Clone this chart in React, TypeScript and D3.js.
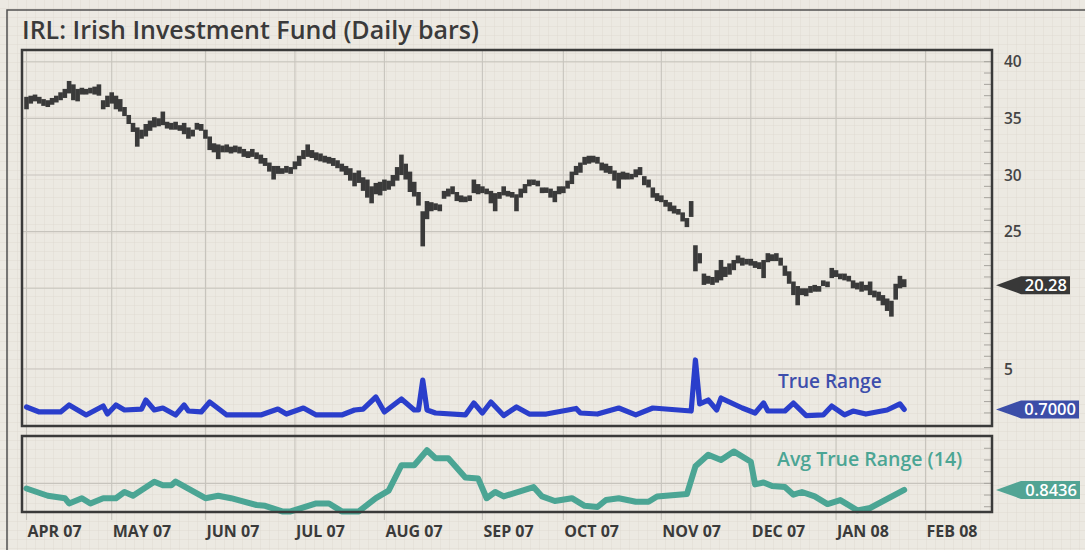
import React from "react"
import * as d3 from "d3"

// trading calendar
const firstDay = "2007-04-02"
const lastAxisDay = "2008-02-01"
const holidays = ["2007-04-06", "2007-05-28", "2007-07-04", "2007-09-03", "2007-11-22", "2007-12-25", "2008-01-01", "2008-01-21"]

// daily bars (high / low), one per trading day from Apr 2 2007
const highs = [
  36.9, 37.0, 37.1, 36.9, 36.7, 36.6, 36.8, 37.0, 37.3, 37.6,
  38.3, 38.0, 37.6, 37.7, 37.6, 37.7, 37.8, 38.0, 36.6, 37.0,
  37.3, 37.0, 36.7, 36.0, 35.3, 34.6, 34.2, 34.0, 34.5, 34.8,
  35.1, 35.0, 35.6, 34.7, 34.6, 34.7, 34.4, 34.6, 34.2, 34.0,
  34.6, 34.5, 34.0, 33.4, 32.8, 32.7, 32.6, 32.7, 32.5, 32.6,
  32.5, 32.3, 32.1, 32.3, 32.0, 31.8, 31.5, 31.1, 30.8, 30.8,
  30.6, 30.8, 30.7, 31.2, 31.7, 32.2, 32.7, 32.2, 32.0, 31.9,
  31.7, 31.6, 31.5, 31.3, 31.0, 30.8, 30.6, 30.2, 30.4, 29.8,
  29.6, 29.0, 29.3, 29.4, 29.6, 29.5, 30.0, 30.7, 31.8, 31.0,
  30.3, 29.4, 28.5, 26.8, 27.7, 27.6, 27.5, 27.4, 28.6, 28.8,
  29.0, 28.5, 28.2, 28.1, 28.2, 29.6, 29.2, 29.0, 28.8, 28.6,
  28.4, 28.5, 29.0, 28.6, 28.5, 28.3, 28.8, 29.2, 29.6, 29.6,
  29.5, 28.9, 28.9, 28.8, 28.6, 29.0, 29.0, 29.5, 30.3, 30.8,
  31.1, 31.6, 31.7, 31.7, 31.6, 31.1, 31.0, 30.8, 30.4, 30.2,
  30.3, 30.2, 30.1, 30.5, 30.7, 29.9, 29.6, 28.9, 28.4, 28.2,
  27.8, 27.6, 27.3, 27.0, 26.7, 26.2, 27.7, 23.8, 23.1, 21.3,
  21.1, 21.0, 21.6, 22.5, 21.9, 22.2, 22.5, 22.9, 22.7, 22.6,
  22.6, 22.4, 22.3, 22.5, 23.1, 23.0, 23.1, 22.7, 22.0, 21.5,
  20.6, 20.2, 20.0, 20.0, 20.2, 20.3, 20.2, 20.7, 20.6, 21.8,
  21.6, 21.3, 21.3, 21.1, 20.7, 20.5, 20.6, 20.3, 20.6, 19.8,
  19.7, 19.4, 19.1, 18.9, 20.4, 21.1, 20.8,
]
const lows = [
  35.8, 36.3, 36.5, 36.3, 36.1, 36.0, 36.2, 36.4, 36.6, 36.8,
  37.2, 36.6, 36.5, 37.1, 37.1, 37.2, 37.1, 37.0, 35.8, 36.0,
  36.3, 35.8, 35.6, 35.2, 34.5, 33.8, 32.5, 33.2, 33.4, 33.9,
  34.2, 34.3, 34.4, 34.1, 34.0, 34.0, 33.9, 33.6, 33.2, 33.4,
  34.0, 33.9, 33.2, 32.2, 32.0, 31.4, 32.0, 32.0, 31.9, 32.0,
  31.9, 31.6, 31.5, 31.6, 31.4, 31.0, 30.8, 30.3, 29.6, 30.1,
  30.1, 30.2, 30.1, 30.5, 30.8, 31.4, 31.6, 31.5, 31.3, 31.2,
  31.1, 31.0, 30.8, 30.6, 30.3, 30.0, 29.5, 29.0, 29.3, 28.6,
  28.0, 27.5, 28.3, 28.2, 28.6, 28.7, 29.0, 29.5, 30.0, 29.6,
  28.5, 28.1, 27.3, 23.7, 26.1, 26.8, 26.9, 26.8, 27.9, 28.1,
  28.3, 27.7, 27.6, 27.6, 27.7, 28.4, 28.3, 28.4, 28.3, 27.5,
  26.8, 27.9, 28.2, 28.1, 28.0, 26.8, 28.0, 28.4, 29.0, 29.2,
  29.0, 28.4, 28.5, 28.0, 27.6, 28.3, 28.4, 28.8, 29.2, 30.0,
  30.2, 30.9, 31.0, 31.1, 31.0, 30.4, 30.2, 30.1, 29.5, 28.8,
  29.6, 29.6, 29.7, 29.8, 30.0, 29.1, 28.9, 28.0, 27.7, 27.6,
  27.2, 26.8, 26.6, 26.5, 25.9, 25.4, 26.3, 21.5, 22.2, 20.3,
  20.4, 20.3, 20.5, 20.7, 21.0, 21.2, 21.6, 22.2, 22.0, 22.1,
  22.0, 21.8, 21.7, 20.9, 22.3, 22.4, 22.4, 22.0, 21.1, 20.4,
  19.4, 18.5, 19.4, 19.3, 19.6, 19.7, 19.7, 20.2, 20.1, 20.9,
  21.0, 20.8, 20.7, 20.6, 20.0, 19.9, 19.7, 19.8, 19.4, 19.2,
  18.9, 18.5, 18.0, 17.5, 19.0, 20.0, 20.1,
]
const lastClose = 20.28

// true range, sampled at trading-day numbers
const trDay = [0, 3, 8, 10, 14, 18, 19, 21, 23, 27, 28, 30, 32, 35, 37, 38, 41, 43, 47, 55, 59, 61, 65, 68, 74, 77, 79, 82, 84, 88, 91, 92, 93, 94, 96, 103, 105, 107, 109, 112, 115, 118, 122, 129, 130, 134, 139, 143, 147, 153, 156, 157, 158, 160, 162, 163, 168, 171, 173, 174, 178, 180, 183, 187, 189, 192, 194, 197, 202, 205, 206]
const trValue = [0.96, 0.43, 0.43, 1.17, 0.11, 1.06, 0.21, 1.17, 0.64, 0.74, 1.7, 0.64, 0.85, 0.11, 1.17, 0.53, 0.43, 1.49, 0.11, 0.11, 0.74, 0.21, 0.85, 0.11, 0.11, 0.64, 0.74, 2.02, 0.43, 1.81, 0.64, 0.64, 3.83, 0.64, 0.32, 0.11, 1.38, 0.32, 1.49, 0.05, 0.96, 0.21, 0.21, 0.8, 0.32, 0.21, 0.85, 0.11, 0.85, 0.64, 0.53, 5.96, 1.28, 1.7, 0.64, 1.91, 0.85, 0.32, 1.38, 0.53, 0.53, 1.38, 0.05, 0.11, 1.06, 0.11, 0.53, 0.21, 0.64, 1.28, 0.7]

// 14-day average true range
const atrDay = [0, 5, 9, 10, 13, 15, 18, 21, 23, 25, 30, 32, 34, 35, 42, 45, 48, 54, 56, 60, 62, 68, 71, 74, 78, 82, 85, 88, 91, 94, 96, 99, 103, 106, 108, 110, 112, 119, 121, 124, 128, 131, 134, 136, 139, 143, 146, 148, 155, 157, 160, 163, 166, 170, 171, 173, 175, 178, 180, 182, 185, 188, 191, 195, 198, 206]
const atrValue = [0.856, 0.794, 0.773, 0.728, 0.773, 0.728, 0.773, 0.773, 0.826, 0.794, 0.913, 0.883, 0.883, 0.915, 0.773, 0.794, 0.773, 0.715, 0.708, 0.66, 0.66, 0.728, 0.728, 0.66, 0.66, 0.774, 0.838, 1.055, 1.055, 1.183, 1.115, 1.115, 0.951, 0.942, 0.773, 0.826, 0.788, 0.868, 0.788, 0.749, 0.773, 0.708, 0.698, 0.758, 0.773, 0.743, 0.743, 0.788, 0.808, 1.046, 1.144, 1.099, 1.173, 1.085, 0.891, 0.907, 0.877, 0.868, 0.803, 0.826, 0.788, 0.723, 0.757, 0.669, 0.689, 0.8436]

const priceTicks = [40, 35, 30, 25]
const priceGrid = [40, 35, 30, 25, 20]
const trTicks = [5]

const W = 1085
const H = 550
const FONT = "'Open Sans', 'DejaVu Sans', sans-serif"
const INK = "#3a3a3a"
const BG = "#ece9e2"
const GRID = "#c7c4bd"
const TR_COLOR = "#2a3ecb"
const TR_LABEL = "#3d4eac"
const ATR_COLOR = "#4ba594"

const main = { left: 22, right: 992, top: 50, bottom: 426 }
const lower = { left: 22, right: 992, top: 436, bottom: 512 }

function Tag({ y, text, color, right }: { y: number; text: string; color: string; right: number }) {
  const tip = 996
  const body = 1021
  const h = 9
  return (
    <g>
      <polygon
        points={`${tip},${y} ${body},${y - h} ${right},${y - h} ${right},${y + h} ${body},${y + h}`}
        fill={color}
      />
      <text x={right - 3} y={y} dy="0.36em" textAnchor="end" fill="#fff" fontSize={16.5} fontWeight={600} fontFamily={FONT}>
        {text}
      </text>
    </g>
  )
}

export default function App() {
  const parse = d3.timeParse("%Y-%m-%d")
  const fmt = d3.timeFormat("%Y-%m-%d")
  const days = d3.timeDay
    .range(parse(firstDay) as Date, d3.timeDay.offset(parse(lastAxisDay) as Date, 1))
    .filter(d => d.getDay() % 6 !== 0 && !holidays.includes(fmt(d)))

  const x = d3.scaleLinear().domain([0, days.length - 1]).range([26.5, 925.5])
  const yPrice = d3.scaleLinear().domain([20, 40]).range([288.3, 61.7])
  const yTR = d3.scaleLinear().domain([0, 5]).range([416, 369])
  const yATR = d3.scaleLinear().domain([0.655, 1.305]).range([lower.bottom, lower.top])

  const monthStarts = days
    .map((d, i) => ({ d, i }))
    .filter(({ d, i }) => i === 0 || d.getMonth() !== days[i - 1].getMonth())
  const monthLabel = (d: Date) => d3.timeFormat("%b %y")(d).toUpperCase()

  const bars = highs.map((h, i) => ({ i, h, l: lows[i] }))
  const barW = 4.6

  const trLine = d3
    .line<number>()
    .x((_, k) => x(trDay[k]))
    .y(v => yTR(v))
  const atrLine = d3
    .line<number>()
    .x((_, k) => x(atrDay[k]))
    .y(v => yATR(v))

  // right-edge minor ticks: every price unit down the main panel, every 0.1 in the lower one
  const priceMinor = d3.range(40, 2, -1).map(v => yPrice(v)).filter(y => y > main.top + 2 && y < main.bottom - 2)
  const atrMinor = d3.range(0.7, 1.25, 0.1).map(v => yATR(v))

  const lastTR = trValue[trValue.length - 1]
  const lastATR = atrValue[atrValue.length - 1]

  return (
    <svg width={W} height={H} style={{ position: "absolute", left: 0, top: 0, display: "block" }}>
      <defs>
        <pattern id="paper" width={9} height={9} patternUnits="userSpaceOnUse">
          <path d="M9 0V9H0" fill="none" stroke="#dbd7cf" strokeWidth={0.8} />
        </pattern>
      </defs>
      <rect width={W} height={H} fill={BG} />
      <rect width={W} height={H} fill="url(#paper)" />

      {/* outer frame */}
      <path d={`M7 ${H} V10 H${W}`} fill="none" stroke="#505050" strokeWidth={1.5} />

      <text x={22} y={39} fill={INK} fontSize={25} fontWeight={600} fontFamily={FONT}>
        IRL: Irish Investment Fund (Daily bars)
      </text>

      {/* grid */}
      <g stroke={GRID} strokeWidth={1.1}>
        {monthStarts.map(({ i }) => (
          <line key={i} x1={x(i)} x2={x(i)} y1={main.top} y2={520} />
        ))}
        {priceGrid.map(v => (
          <line key={v} x1={main.left} x2={main.right} y1={yPrice(v)} y2={yPrice(v)} />
        ))}
        {trTicks.map(v => (
          <line key={v} x1={main.left} x2={main.right} y1={yTR(v)} y2={yTR(v)} />
        ))}
        <line x1={lower.left} x2={lower.right} y1={yATR(0.9)} y2={yATR(0.9)} />
      </g>

      {/* minor ticks */}
      <g stroke="#a6a39d" strokeWidth={1}>
        {priceMinor.map((y, k) => (
          <line key={k} x1={main.right - 8} x2={main.right} y1={y} y2={y} />
        ))}
        {atrMinor.map((y, k) => (
          <line key={k} x1={lower.right - 8} x2={lower.right} y1={y} y2={y} />
        ))}
      </g>

      {/* price bars */}
      <g fill={INK}>
        {bars.map(b => {
          const top = yPrice(b.h)
          const hgt = Math.max(yPrice(b.l) - top, 5.5)
          return <rect key={b.i} x={x(b.i) - barW / 2} y={top} width={barW} height={hgt} />
        })}
      </g>

      {/* true range */}
      <path d={trLine(trValue) || ""} fill="none" stroke={TR_COLOR} strokeWidth={5.2} strokeLinejoin="round" strokeLinecap="round" />
      <text x={778} y={388} fill={TR_LABEL} fontSize={19} fontWeight={600} fontFamily={FONT}>
        True Range
      </text>

      {/* average true range */}
      <path d={atrLine(atrValue) || ""} fill="none" stroke={ATR_COLOR} strokeWidth={6} strokeLinejoin="round" strokeLinecap="round" />
      <text x={777} y={466} fill={ATR_COLOR} fontSize={19.5} fontWeight={600} fontFamily={FONT}>
        Avg True Range (14)
      </text>

      {/* panel frames */}
      <rect x={main.left} y={main.top} width={main.right - main.left} height={main.bottom - main.top} fill="none" stroke={INK} strokeWidth={2.5} />
      <rect x={lower.left} y={lower.top} width={lower.right - lower.left} height={lower.bottom - lower.top} fill="none" stroke={INK} strokeWidth={2.5} />

      {/* right axis */}
      <g fill="#444" fontSize={15.5} fontWeight={600} fontFamily={FONT}>
        {priceTicks.map(v => (
          <text key={v} x={1004} y={yPrice(v)} dy="0.36em">
            {v}
          </text>
        ))}
        {trTicks.map(v => (
          <text key={v} x={1004} y={yTR(v)} dy="0.36em">
            {v}
          </text>
        ))}
      </g>

      <Tag y={yPrice(lastClose)} text={d3.format(".2f")(lastClose)} color="#383838" right={1070} />
      <Tag y={yTR(lastTR)} text={d3.format(".4f")(lastTR)} color="#3c4ea8" right={1079} />
      <Tag y={yATR(lastATR)} text={d3.format(".4f")(lastATR)} color="#52a494" right={1080} />

      {/* month labels */}
      <g fill={INK} fontSize={16} fontWeight={700} fontFamily={FONT}>
        {monthStarts.map(({ d, i }) => (
          <text key={i} x={x(i) + 1} y={537}>
            {monthLabel(d)}
          </text>
        ))}
      </g>
    </svg>
  )
}
